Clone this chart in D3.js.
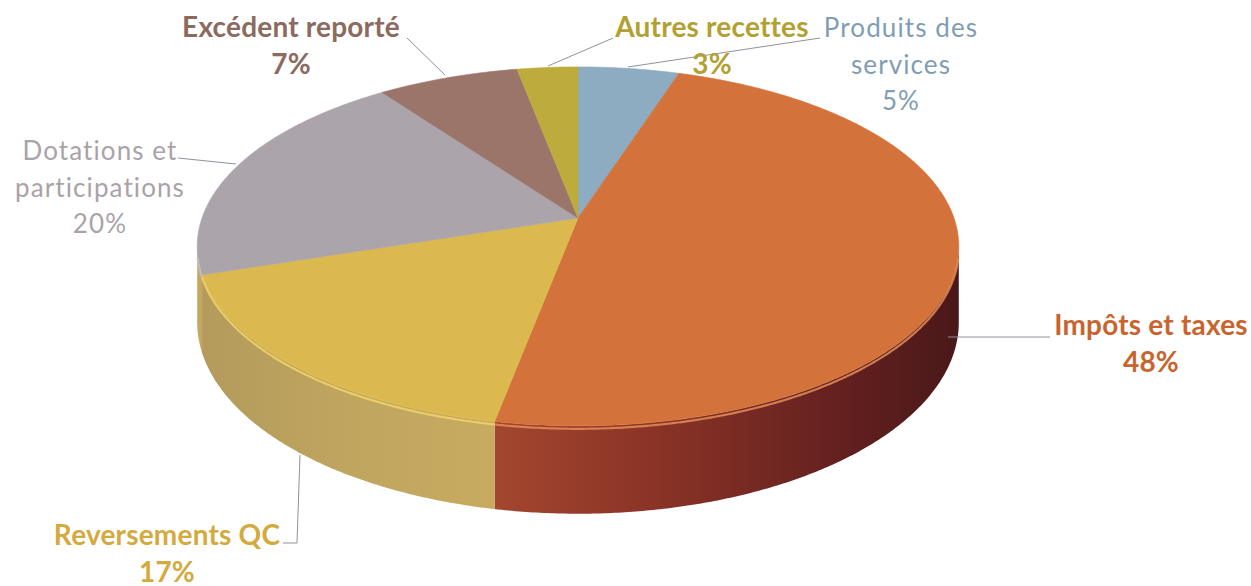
<!DOCTYPE html>
<html>
<head>
<meta charset="utf-8">
<script src="https://cdn.jsdelivr.net/npm/d3@7"></script>
<style>
  body { margin: 0; background: #fff; }
  text { font-family: Lato, "Open Sans", sans-serif; }
</style>
</head>
<body>
<div id="chart"></div>
<script>
// slices, clockwise from 12 o'clock
const categories = ["Produits des services", "Impôts et taxes", "Reversements QC",
  "Dotations et participations", "Excédent reporté", "Autres recettes"];
const values = [5, 48, 17, 20, 7, 3];
const labelLines = [["Produits des", "services"], ["Impôts et taxes"], ["Reversements QC"],
  ["Dotations et", "participations"], ["Excédent reporté"], ["Autres recettes"]];

const topColors = ["#8eacc1", "#d4723b", "#dbb94f", "#aba5ab", "#9b7569", "#bdab3c"];
const textColors = ["#7f9db4", "#c8652e", "#d3aa3e", "#a9a3a8", "#8b6a60", "#b2a132"];
const boldLabel = [false, true, true, false, true, true];

const width = 1251, height = 586;

// projection of the tilted disc (a bit of perspective, like the Excel 3D pie)
const cx = 578, cy0 = 218, A = 376, B = 175, k = 0.158, H = 74;
function proj(t, drop) {
  const u = Math.sin(t), v = Math.cos(t), w = 1 + k * v;
  return [cx + A * u / w, cy0 - B * v / w + (drop || 0) / w];
}
function arcPts(a0, a1, drop) {
  const n = Math.max(2, Math.ceil((a1 - a0) / 0.008));
  return d3.range(n + 1).map(i => proj(a0 + (a1 - a0) * i / n, drop));
}

const svg = d3.select("#chart").append("svg")
  .attr("width", width).attr("height", height);
const defs = svg.append("defs");

const pie = d3.pie().sort(null).value(d => d)(values);
const line = d3.line();

const visA = Math.acos(-k), visB = 2 * Math.PI - Math.acos(-k);

// side shading
const sideStops = {
  1: [["0%", "#a4462f"], ["35%", "#8a3326"], ["75%", "#63201f"], ["100%", "#4a1819"]],
  2: [["0%", "#c8ab60"], ["50%", "#c0a55f"], ["100%", "#b49b5c"]]
};
Object.entries(sideStops).forEach(([i, stops]) => {
  const s = pie[i];
  const a0 = Math.max(s.startAngle, visA), a1 = Math.min(s.endAngle, visB);
  const p0 = proj(i == 1 ? a1 : a0), p1 = proj(i == 1 ? a0 : a1);
  const g = defs.append("linearGradient").attr("id", "side" + i)
    .attr("gradientUnits", "userSpaceOnUse")
    .attr("x1", p0[0]).attr("y1", 0).attr("x2", p1[0]).attr("y2", 0);
  stops.forEach(st => g.append("stop").attr("offset", st[0]).attr("stop-color", st[1]));
});

// sides
const gSide = svg.append("g");
pie.forEach((s, i) => {
  const a0 = Math.max(s.startAngle, visA), a1 = Math.min(s.endAngle, visB);
  if (a1 <= a0) return;
  const pts = arcPts(a0, a1, 0).concat(arcPts(a0, a1, H).reverse());
  gSide.append("path")
    .attr("d", line(pts) + "Z")
    .attr("fill", sideStops[i] ? `url(#side${i})` : "#c4a862");
});

// top faces
const gTop = svg.append("g");
pie.forEach((s, i) => {
  const pts = [[cx, cy0]].concat(arcPts(s.startAngle, s.endAngle, 0));
  gTop.append("path")
    .attr("d", line(pts) + "Z")
    .attr("fill", topColors[i])
    .attr("stroke", topColors[i]).attr("stroke-width", 0.6);
});

// bevel highlight along the front rim
const rimColors = ["#a9c3d3", "#e48d58", "#f2d466", "#c3bdc3", "#b08a7e", "#d3c150"];
pie.forEach((s, i) => {
  const a0 = Math.max(s.startAngle, visA + 0.05), a1 = Math.min(s.endAngle, visB - 0.05);
  if (a1 <= a0) return;
  gTop.append("path")
    .attr("d", line(arcPts(a0, a1, 2.5)))
    .attr("fill", "none")
    .attr("stroke", rimColors[i]).attr("stroke-width", 2.2).attr("opacity", 0.85);
});

// labels: anchor point (centre x, first baseline) and leader line
const labelPos = [[901, 37], [1151, 335], [167, 545], [100, 160], [291, 37], [712, 37]];
const leaders = [
  [[820, 38], [628, 67]],
  [[948, 337], [1050, 337]],
  [[300, 455], [297, 543], [283, 543]],
  [[178, 158], [236, 164]],
  [[407, 38], [445, 75]],
  [[613, 38], [548, 66]]
];

const gLab = svg.append("g");
leaders.forEach(pts => {
  gLab.append("path").attr("d", line(pts))
    .attr("fill", "none").attr("stroke", "#8e929c").attr("stroke-width", 1);
});

const fmt = d => d + "%";
pie.forEach((s, i) => {
  const t = gLab.append("text")
    .attr("text-anchor", "middle")
    .attr("fill", textColors[i])
    .attr("font-size", boldLabel[i] ? 28 : 26)
    .attr("font-weight", boldLabel[i] ? 700 : 400)
    .attr("letter-spacing", boldLabel[i] ? 0.2 : 1.1);
  const lines = labelLines[i].concat([fmt(values[i])]);
  lines.forEach((l, j) => {
    t.append("tspan").attr("x", labelPos[i][0]).attr("y", labelPos[i][1] + j * 36.5).text(l);
  });
});
</script>
</body>
</html>
